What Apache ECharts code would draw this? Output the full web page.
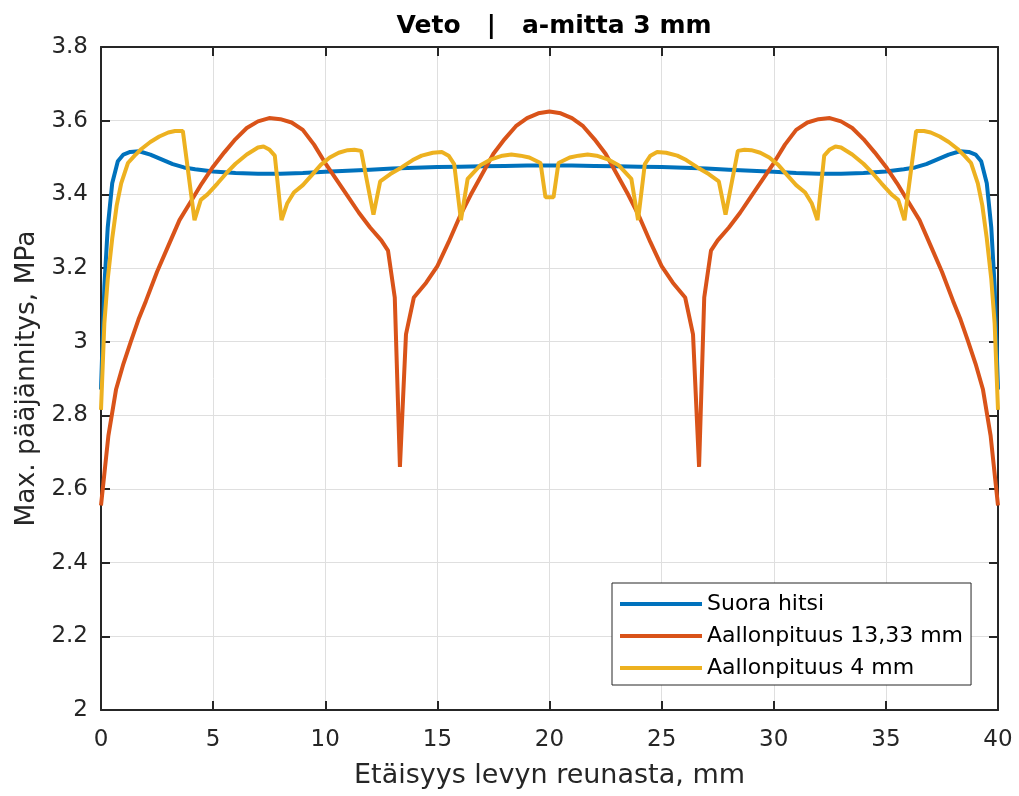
<!DOCTYPE html>
<html>
<head>
<meta charset="utf-8">
<title>Veto | a-mitta 3 mm</title>
<style>
  html, body { margin: 0; padding: 0; background: #fff; }
  #main { width: 1019px; height: 796px; }
</style>
</head>
<body>
<div id="main"></div>
<script src="https://cdn.jsdelivr.net/npm/echarts@6/dist/echarts.min.js"></script>
<script>
// values, [distance mm, stress MPa]
var suoraHitsi = [
  [0, 2.87], [0.15, 3.15], [0.3, 3.31], [0.5, 3.43], [0.75, 3.49], [1, 3.508],
  [1.3, 3.515], [1.7, 3.517], [2.2, 3.508], [2.7, 3.495], [3.2, 3.482], [3.7, 3.473],
  [4.2, 3.468], [5, 3.462], [6, 3.458], [7, 3.456], [8, 3.456], [9, 3.458],
  [10, 3.461], [11, 3.464], [12, 3.467], [13, 3.47], [14, 3.472], [15, 3.474],
  [16, 3.475], [17, 3.476], [18, 3.477], [19, 3.478], [20, 3.478], [21, 3.478],
  [22, 3.477], [23, 3.476], [24, 3.475], [25, 3.474], [26, 3.472], [27, 3.47],
  [28, 3.467], [29, 3.464], [30, 3.461], [31, 3.458], [32, 3.456], [33, 3.456],
  [34, 3.458], [35, 3.462], [35.8, 3.468], [36.3, 3.473], [36.8, 3.482], [37.3, 3.495],
  [37.8, 3.508], [38.3, 3.517], [38.7, 3.515], [39, 3.508], [39.25, 3.49], [39.5, 3.43],
  [39.7, 3.31], [39.85, 3.15], [40, 2.87]
];

var aalto1333 = [
  [0, 2.555], [0.33, 2.745], [0.67, 2.87], [1, 2.94], [1.33, 3.0], [1.67, 3.06],
  [2, 3.11], [2.5, 3.19], [3, 3.26], [3.5, 3.33], [4, 3.38], [4.5, 3.43],
  [5, 3.475], [5.5, 3.514], [6, 3.55], [6.5, 3.58], [7, 3.598], [7.5, 3.607],
  [8, 3.604], [8.5, 3.595], [9, 3.575], [9.5, 3.535], [10, 3.485], [10.5, 3.44],
  [11, 3.395], [11.5, 3.35], [12, 3.31], [12.5, 3.275], [12.8, 3.247], [13.1, 3.12],
  [13.33, 2.66], [13.6, 3.02], [13.95, 3.12], [14.5, 3.16], [15, 3.205], [15.5, 3.27],
  [16, 3.34], [16.5, 3.4], [17, 3.455], [17.5, 3.51], [18, 3.55], [18.5, 3.585],
  [19, 3.607], [19.5, 3.62], [20, 3.625], [20.5, 3.62], [21, 3.607], [21.5, 3.585],
  [22, 3.55], [22.5, 3.51], [23, 3.455], [23.5, 3.4], [24, 3.34], [24.5, 3.27],
  [25, 3.205], [25.5, 3.16], [26.05, 3.12], [26.4, 3.02], [26.67, 2.66], [26.9, 3.12],
  [27.2, 3.247], [27.5, 3.275], [28, 3.31], [28.5, 3.35], [29, 3.395], [29.5, 3.44],
  [30, 3.485], [30.5, 3.535], [31, 3.575], [31.5, 3.595], [32, 3.604], [32.5, 3.607],
  [33, 3.598], [33.5, 3.58], [34, 3.55], [34.5, 3.514], [35, 3.475], [35.5, 3.43],
  [36, 3.38], [36.5, 3.33], [37, 3.26], [37.5, 3.19], [38, 3.11], [38.33, 3.06],
  [38.67, 3.0], [39, 2.94], [39.33, 2.87], [39.67, 2.745], [40, 2.555]
];

var aalto4 = [
  [0, 2.815], [0.15, 3.05], [0.3, 3.17], [0.5, 3.28], [0.7, 3.37], [0.9, 3.43],
  [1.2, 3.485], [1.5, 3.505], [1.8, 3.523], [2.2, 3.542], [2.6, 3.557], [3.0, 3.568],
  [3.3, 3.572], [3.65, 3.572], [4.17, 3.33], [4.45, 3.385], [4.75, 3.4], [5.2, 3.43],
  [5.6, 3.458], [6.0, 3.483], [6.5, 3.508], [7.0, 3.527], [7.25, 3.53], [7.5, 3.522],
  [7.75, 3.505], [8.05, 3.33], [8.3, 3.375], [8.6, 3.405], [9.0, 3.425], [9.4, 3.452],
  [9.8, 3.48], [10.2, 3.5], [10.6, 3.513], [11.0, 3.52], [11.3, 3.521], [11.6, 3.518],
  [12.15, 3.345], [12.45, 3.435], [12.9, 3.455], [13.4, 3.473], [13.9, 3.493], [14.3, 3.505],
  [14.8, 3.513], [15.2, 3.515], [15.5, 3.505], [15.75, 3.482], [16.05, 3.33], [16.35, 3.442],
  [16.9, 3.478], [17.4, 3.495], [17.9, 3.505], [18.3, 3.508], [18.7, 3.505], [19.1, 3.5],
  [19.6, 3.485], [19.82, 3.392], [20.18, 3.392], [20.4, 3.485], [20.9, 3.5], [21.3, 3.505],
  [21.7, 3.508], [22.1, 3.505], [22.6, 3.495], [23.1, 3.478], [23.65, 3.442], [23.95, 3.33],
  [24.25, 3.482], [24.5, 3.505], [24.8, 3.515], [25.2, 3.513], [25.7, 3.505], [26.1, 3.493],
  [26.6, 3.473], [27.1, 3.455], [27.55, 3.435], [27.85, 3.345], [28.4, 3.518], [28.7, 3.521],
  [29.0, 3.52], [29.4, 3.513], [29.8, 3.5], [30.2, 3.48], [30.6, 3.452], [31.0, 3.425],
  [31.4, 3.405], [31.7, 3.375], [31.95, 3.33], [32.25, 3.505], [32.5, 3.522], [32.75, 3.53],
  [33.0, 3.527], [33.5, 3.508], [34.0, 3.483], [34.4, 3.458], [34.8, 3.43], [35.25, 3.4],
  [35.55, 3.385], [35.83, 3.33], [36.35, 3.572], [36.7, 3.572], [37.0, 3.568], [37.4, 3.557],
  [37.8, 3.542], [38.2, 3.523], [38.5, 3.505], [38.8, 3.485], [39.1, 3.43], [39.3, 3.37],
  [39.5, 3.28], [39.7, 3.17], [39.85, 3.05], [40, 2.815]
];

var seriesNames = ['Suora hitsi', 'Aallonpituus 13,33 mm', 'Aallonpituus 4 mm'];
var seriesColors = ['#0072BD', '#D95319', '#EDB120'];

var FONT = 'DejaVu Sans';
var INK = '#262626';

var chart = echarts.init(document.getElementById('main'));

// the frame: bottom/left carry labels, top/right only mirror the ticks
function xAxisDef(pos, labels) {
  return {
    type: 'value', position: pos, min: 0, max: 40, interval: 5,
    name: labels ? 'Etäisyys levyn reunasta, mm' : '',
    nameLocation: 'middle', nameGap: 52,
    nameTextStyle: { fontFamily: FONT, fontSize: 27, color: INK },
    axisLine: { show: true, onZero: false, lineStyle: { color: INK, width: 2 } },
    axisTick: { show: true, inside: true, length: 9, lineStyle: { color: INK, width: 2 } },
    axisLabel: { show: labels, margin: 19, fontFamily: FONT, fontSize: 23, color: INK },
    splitLine: { show: labels, lineStyle: { color: '#dfdfdf', width: 1 } }
  };
}
function yAxisDef(pos, labels) {
  return {
    type: 'value', position: pos, min: 2, max: 3.8, interval: 0.2,
    name: labels ? 'Max. pääjännitys, MPa' : '',
    nameLocation: 'middle', nameGap: 56,
    nameTextStyle: { fontFamily: FONT, fontSize: 26.5, color: INK },
    axisLine: { show: true, onZero: false, lineStyle: { color: INK, width: 2 } },
    axisTick: { show: true, inside: true, length: 9, lineStyle: { color: INK, width: 2 } },
    axisLabel: { show: labels, margin: 13, fontFamily: FONT, fontSize: 23, color: INK },
    splitLine: { show: labels, lineStyle: { color: '#dfdfdf', width: 1 } }
  };
}

var allData = [suoraHitsi, aalto1333, aalto4];
var series = allData.map(function (d, i) {
  return {
    name: seriesNames[i],
    type: 'line',
    data: d,
    showSymbol: false,
    symbol: 'none',
    clip: false,
    z: 3 + i,
    lineStyle: { color: seriesColors[i], width: 4 },
    itemStyle: { color: seriesColors[i] }
  };
});

var option = {
  backgroundColor: '#fff',
  animation: false,
  title: {
    text: 'Veto   |   a-mitta 3 mm',
    left: 549,
    top: 9,
    textAlign: 'center',
    textStyle: { fontFamily: FONT, fontSize: 25, fontWeight: 'bold', color: '#000' }
  },
  grid: { left: 101, right: 21, top: 47, bottom: 86 },
  xAxis: [xAxisDef('bottom', true), xAxisDef('top', false)],
  yAxis: [yAxisDef('left', true), yAxisDef('right', false)],
  legend: {
    orient: 'vertical',
    left: 612,
    top: 583,
    data: seriesNames,
    icon: 'rect',
    itemWidth: 82,
    itemHeight: 4,
    itemGap: 8,
    padding: [9, 8, 5, 8],
    backgroundColor: '#fff',
    borderColor: INK,
    borderWidth: 1,
    borderRadius: 0,
    textStyle: { fontFamily: FONT, fontSize: 22, color: '#000', lineHeight: 24 }
  },
  series: series
};

chart.setOption(option);
</script>
</body>
</html>
